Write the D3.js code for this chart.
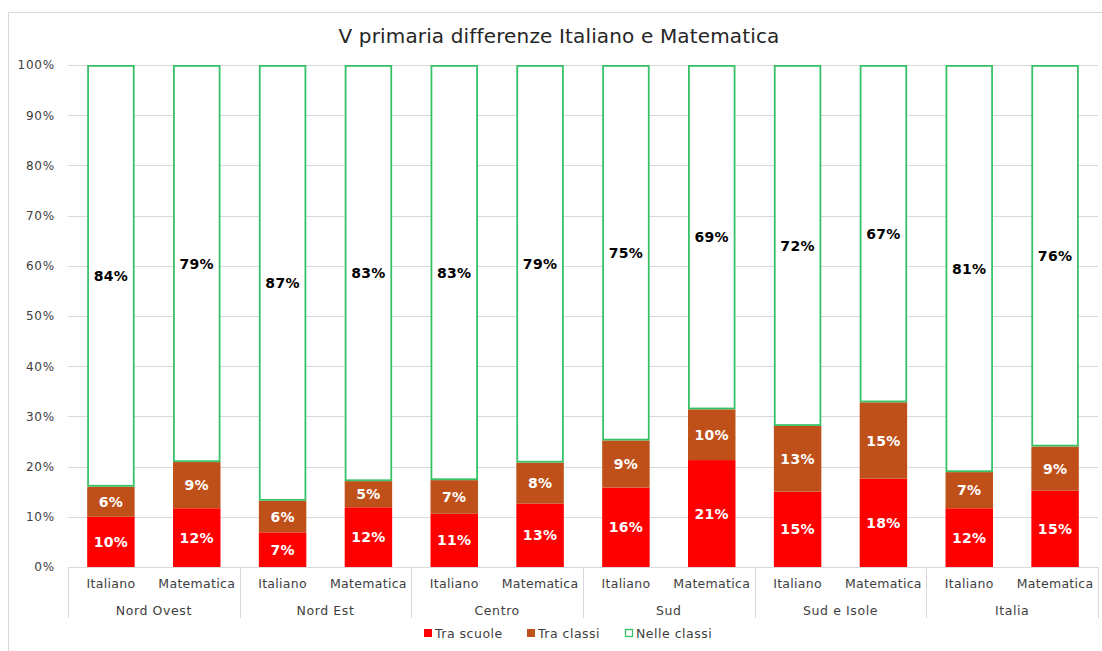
<!DOCTYPE html>
<html>
<head>
<meta charset="utf-8">
<script src="https://cdn.jsdelivr.net/npm/d3@7"></script>
<style>
  html, body { margin: 0; padding: 0; background: #ffffff; }
  svg { display: block; font-family: "DejaVu Sans", Verdana, sans-serif; }
</style>
</head>
<body>
<svg id="chart" width="1102" height="651"></svg>
<script>
// ---- Data ----
const title = "V primaria differenze Italiano e Matematica";
const regions = ["Nord Ovest", "Nord Est", "Centro", "Sud", "Sud e Isole", "Italia"];
const subjects = ["Italiano", "Matematica"];
const seriesNames = ["Tra scuole", "Tra classi", "Nelle classi"];
const traScuole   = [10.0, 11.7, 6.9, 11.9, 10.6, 12.6, 15.8, 21.3, 15.0, 17.6, 11.7, 15.2];
const traClassi   = [6.0, 9.2, 6.3, 5.2, 6.7, 8.2, 9.4, 10.1, 13.1, 15.2, 7.2, 8.8];
const nelleClassi = [84.0, 79.1, 86.8, 82.9, 82.7, 79.2, 74.8, 68.6, 71.9, 67.2, 81.1, 76.0];
const yTicks = [0, 10, 20, 30, 40, 50, 60, 70, 80, 90, 100];

// ---- Build table ----
const cats = [];
regions.forEach((r, ri) => subjects.forEach((s, si) => cats.push({ id: r + "|" + s, region: r, subject: s, i: ri * 2 + si })));
const rows = cats.map(c => ({ id: c.id, "Tra scuole": traScuole[c.i], "Tra classi": traClassi[c.i], "Nelle classi": nelleClassi[c.i] }));
const stacked = d3.stack().keys(seriesNames)(rows);

const colors = { "Tra scuole": "#ff0000", "Tra classi": "#c0501a", "Nelle classi": "#ffffff" };
const green = "#38c268";

// ---- Layout ----
const svg = d3.select("#chart");
const plotLeft = 68, plotRight = 1098, plotTop = 65, plotBottom = 567;

// chart border
svg.append("rect").attr("x", 8.5).attr("y", 12.5).attr("width", 1110).attr("height", 660)
  .attr("fill", "none").attr("stroke", "#d9d9d9").attr("stroke-width", 1);

// title
svg.append("text").attr("x", 559).attr("y", 43).attr("text-anchor", "middle")
  .attr("font-size", "20px").attr("fill", "#262626").style("letter-spacing", "0.15px").text(title);

const x = d3.scaleBand().domain(cats.map(c => c.id)).range([plotLeft, plotRight]).paddingInner(0.447).paddingOuter(0.2235);
const y = d3.scaleLinear().domain([0, 100]).range([plotBottom, plotTop]);

// gridlines
svg.append("g").selectAll("line").data(yTicks).join("line")
  .attr("x1", plotLeft).attr("x2", plotRight)
  .attr("y1", d => Math.round(y(d)) + 0.5).attr("y2", d => Math.round(y(d)) + 0.5)
  .attr("stroke", "#d9d9d9").attr("stroke-width", 1);

// y axis labels
const yAxis = d3.axisLeft(y).tickValues(yTicks).tickFormat(d => d + "%").tickSize(0).tickPadding(13);
const yg = svg.append("g").attr("transform", `translate(${plotLeft},0)`).call(yAxis);
yg.select(".domain").remove();
yg.selectAll("text").attr("font-size", "12px").attr("fill", "#404040")
  .attr("font-family", "DejaVu Sans, Verdana, sans-serif").style("letter-spacing", "0.8px");

// bars
const layer = svg.append("g").selectAll("g").data(stacked).join("g");
layer.each(function (s) {
  const key = s.key;
  const outl = key === "Nelle classi";
  d3.select(this).selectAll("rect").data(s).join("rect")
    .attr("x", d => x(d.data.id) + (outl ? 0.9 : 0))
    .attr("width", x.bandwidth() - (outl ? 1.8 : 0))
    .attr("y", d => y(d[1]) + (outl ? 0.9 : 0))
    .attr("height", d => y(d[0]) - y(d[1]) - (outl ? 1.8 : 0))
    .attr("fill", colors[key])
    .attr("stroke", outl ? green : "none")
    .attr("stroke-width", outl ? 1.8 : 0);
});

// data labels
layer.each(function (s) {
  const key = s.key;
  d3.select(this).selectAll("text").data(s).join("text")
    .attr("x", d => x(d.data.id) + x.bandwidth() / 2)
    .attr("y", d => (y(d[0]) + y(d[1])) / 2)
    .attr("dy", "0.36em")
    .attr("text-anchor", "middle")
    .attr("font-size", "14px").attr("font-weight", "bold")
    .style("letter-spacing", "0.3px")
    .attr("fill", key === "Nelle classi" ? "#000000" : "#ffffff")
    .text(d => Math.round(d[1] - d[0]) + "%");
});

// x axis: baseline
svg.append("line").attr("x1", plotLeft).attr("x2", plotRight).attr("y1", plotBottom + 0.5).attr("y2", plotBottom + 0.5)
  .attr("stroke", "#d9d9d9");

// subject labels
const xAxis = d3.axisBottom(x).tickSize(0).tickPadding(12).tickFormat(id => id.split("|")[1]);
const xg = svg.append("g").attr("transform", `translate(0,${plotBottom})`).call(xAxis);
xg.select(".domain").remove();
xg.selectAll("text").attr("font-size", "12.5px").attr("fill", "#404040")
  .attr("font-family", "DejaVu Sans, Verdana, sans-serif").style("letter-spacing", "0.3px");

// group separators and region labels
const step = x.step();
const groupEdges = d3.range(regions.length + 1).map(i => plotLeft + i * 2 * step);
svg.append("g").selectAll("line").data(groupEdges).join("line")
  .attr("x1", d => Math.round(d) + 0.5).attr("x2", d => Math.round(d) + 0.5)
  .attr("y1", plotBottom).attr("y2", 618)
  .attr("stroke", "#d9d9d9");
svg.append("g").selectAll("text").data(regions).join("text")
  .attr("x", (d, i) => plotLeft + (i * 2 + 1) * step)
  .attr("y", 610).attr("dy", "0.36em")
  .attr("text-anchor", "middle").attr("font-size", "12.5px").attr("fill", "#404040")
  .style("letter-spacing", "0.6px")
  .text(d => d);

// legend
const legendItems = [
  { name: "Tra scuole", x: 424 },
  { name: "Tra classi", x: 527 },
  { name: "Nelle classi", x: 625 }
];
const lg = svg.append("g");
legendItems.forEach(it => {
  const isOutline = it.name === "Nelle classi";
  lg.append("rect").attr("x", it.x + (isOutline ? 0.5 : 0)).attr("y", 629 + (isOutline ? 0.5 : 0))
    .attr("width", isOutline ? 7 : 8).attr("height", isOutline ? 7 : 8)
    .attr("fill", colors[it.name]).attr("stroke", isOutline ? green : "none").attr("stroke-width", 1.3);
  lg.append("text").attr("x", it.x + 11).attr("y", 633).attr("dy", "0.36em")
    .attr("font-size", "12.5px").attr("fill", "#404040").style("letter-spacing", "0.5px").text(it.name);
});
</script>
</body>
</html>
